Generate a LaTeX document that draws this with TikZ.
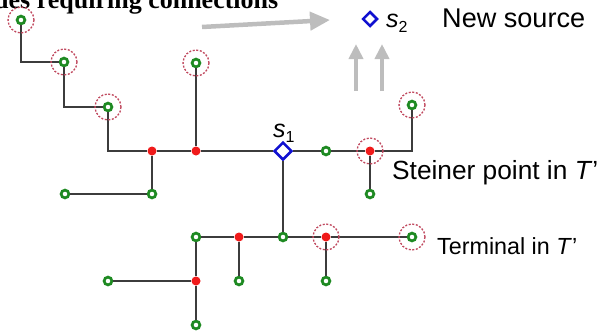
\documentclass[tikz,border=0pt]{standalone}
\usepackage{fontspec}
\setmainfont{Liberation Sans}
\newfontfamily\titlefont{Liberation Serif}
\usetikzlibrary{shapes.geometric,arrows.meta}

\definecolor{tgreen}{HTML}{1E8A22}
\definecolor{sred}{HTML}{F01A1A}
\definecolor{ringred}{HTML}{C0485E}
\definecolor{sblue}{HTML}{1010D0}
\definecolor{wiregray}{HTML}{3C3C3C}
\definecolor{hintgray}{HTML}{BDBDBD}

\tikzset{
  term/.style={circle, draw=tgreen, line width=2.7pt, fill=white,
    minimum size=7.8pt, inner sep=0pt},
  stein/.style={circle, fill=sred, minimum size=9pt, inner sep=0pt},
  ring/.style={circle, draw=ringred, dash pattern=on 2pt off 1.6pt,
    line width=1.3pt, minimum size=26pt, inner sep=0pt},
  src/.style={diamond, draw=sblue, line width=2.5pt, fill=white,
    inner sep=0pt, aspect=1},
  wire/.style={draw=wiregray, line width=2.1pt},
  hint/.style={draw=hintgray, line width=4.5pt,
    -{Triangle[length=20pt,width=18pt]}},
  hintup/.style={draw=hintgray, line width=4.5pt,
    -{Triangle[length=15pt,width=14pt]}},
  label/.style={anchor=base west, inner sep=0pt, text=black},
}

\begin{document}
\begin{tikzpicture}[x=1pt,y=-1pt]
\useasboundingbox (0,0) rectangle (608,335);

% caption (only its lower part fits on the page)
\node[label, font=\titlefont\bfseries\fontsize{26}{26}\selectfont]
  (title) at (-6,8) {des requiring connections};

% tree nodes
\node[term] (a1) at (21,20) {};
\node[term] (a2) at (64,62) {};
\node[term] (a3) at (108,107) {};
\node[stein] (r1) at (152,151) {};
\node[stein] (r2) at (196,151) {};
\node[term] (a4) at (196,63) {};
\node[src, minimum size=18pt] (s1) at (283,151) {};
\node[term] (g1) at (326,151) {};
\node[stein] (r3) at (370,151) {};
\node[term] (a5) at (412,105) {};
\node[term] (g2) at (370,194) {};
\node[term] (g3) at (152,194) {};
\node[term] (g4) at (65,194) {};
\node[term] (g5) at (283,237) {};
\node[term] (g6) at (196,237) {};
\node[stein] (r4) at (239,237) {};
\node[stein] (r5) at (326,237) {};
\node[term] (a6) at (412,237) {};
\node[term] (g7) at (239,281) {};
\node[term] (g8) at (326,281) {};
\node[stein] (r6) at (196,281) {};
\node[term] (g9) at (196,325) {};
\node[term] (g10) at (108,281) {};
\node[src, minimum size=15pt] (s2) at (370,19) {};

% tree edges
\draw[wire] (a1) |- (a2);
\draw[wire] (a2) |- (a3);
\draw[wire] (a3) |- (r1);
\draw[wire] (r1) -- (r2);
\draw[wire] (r2) -- (s1);
\draw[wire] (a4) -- (r2);
\draw[wire] (s1) -- (g1);
\draw[wire] (g1) -- (r3);
\draw[wire] (r3) -| (a5);
\draw[wire] (r3) -- (g2);
\draw[wire] (r1) -- (g3);
\draw[wire] (g3) -- (g4);
\draw[wire] (s1) -- (g5);
\draw[wire] (g6) -- (r4);
\draw[wire] (r4) -- (g5);
\draw[wire] (g5) -- (r5);
\draw[wire] (r5) -- (a6);
\draw[wire] (r4) -- (g7);
\draw[wire] (r5) -- (g8);
\draw[wire] (g6) -- (r6);
\draw[wire] (r6) -- (g9);
\draw[wire] (r6) -- (g10);

% dashed rings around the nodes that need a connection
\foreach \n in {a1,a2,a3,a4,r3,a5,r5,a6}
  \node[ring] at (\n) {};

% gray hint arrows towards the new source
\coordinate (h0) at (202,27);
\coordinate (h1) at (330,20);
\coordinate (u0) at (356,91);
\coordinate (u1) at (356,44);
\coordinate (v0) at (382,91);
\coordinate (v1) at (382,44);
\draw[hint] (h0) -- (h1);
\draw[hintup] (u0) -- (u1);
\draw[hintup] (v0) -- (v1);

% labels
\node[label] (s1lab) at (273,137)
  {\fontsize{25}{25}\selectfont\itshape s\raisebox{-5pt}{\upshape\fontsize{16}{16}\selectfont 1}};
\node[label] (s2lab) at (386,27)
  {\fontsize{25}{25}\selectfont\itshape s\raisebox{-5pt}{\upshape\fontsize{16}{16}\selectfont 2}};
\node[label] (newsrc) at (442,27) {\resizebox{143pt}{!}{New source}};
\node[label] (steiner) at (392,179) {\resizebox{206pt}{!}{Steiner point in \textit{T}’}};
\node[label] (termin) at (437,254) {\resizebox{140pt}{!}{Terminal in \textit{T}’}};
\end{tikzpicture}
\end{document}
